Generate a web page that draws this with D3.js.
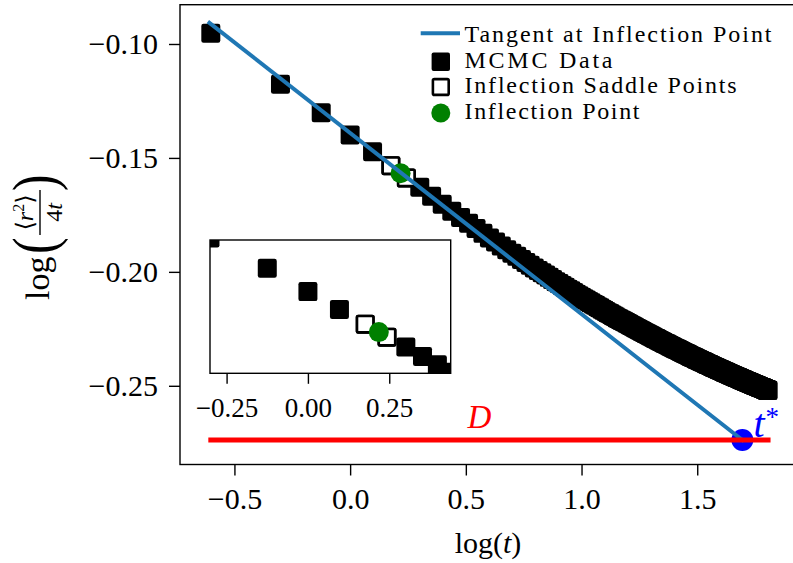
<!DOCTYPE html>
<html>
<head>
<meta charset="utf-8">
<script src="https://cdn.jsdelivr.net/npm/d3@7"></script>
<style>
  body { margin: 0; background: #fff; }
  svg { display: block; }
  text { font-family: "Liberation Serif", "DejaVu Serif", serif; fill: #000; }
</style>
</head>
<body>
<svg id="chart" width="793" height="563"></svg>
<script>
// Sampling times of the MCMC run
const times = [
  0.25,0.5,0.75,1,1.25,1.5,1.75,2,2.25,2.5,2.75,3,3.25,3.5,3.75,4,
  4.25,4.5,4.75,5,5.25,5.5,5.75,6,6.25,6.5,6.75,7,7.25,7.5,7.75,8,
  8.25,8.5,8.75,9,9.25,9.5,9.75,10,10.25,10.5,10.75,11,11.25,11.5,11.75,12,
  12.25,12.5,12.75,13,13.25,13.5,13.75,14,14.25,14.5,14.75,15,15.25,15.5,15.75,16,
  16.25,16.5,16.75,17,17.25,17.5,17.75,18,18.25,18.5,18.75,19,19.25,19.5,19.75,20,
  20.25,20.5,20.75,21,21.25,21.5,21.75,22,22.25,22.5,22.75,23,23.25,23.5,23.75,24,
  24.25,24.5,24.75,25,25.25,25.5,25.75,26,26.25,26.5,26.75,27,27.25,27.5,27.75,28,
  28.25,28.5,28.75,29,29.25,29.5,29.75,30,30.25,30.5,30.75,31,31.25,31.5,31.75,32,
  32.25,32.5,32.75,33,33.25,33.5,33.75,34,34.25,34.5,34.75,35,35.25,35.5,35.75,36,
  36.25,36.5,36.75,37,37.25,37.5,37.75,38,38.25,38.5,38.75,39,39.25,39.5,39.75,40,
  40.25,40.5,40.75,41,41.25,41.5,41.75,42,42.25,42.5,42.75,43,43.25,43.5,43.75,44,
  44.25,44.5,44.75,45,45.25,45.5,45.75,46,46.25,46.5,46.75,47,47.25,47.5,47.75,48,
  48.25,48.5,48.75,49,49.25,49.5,49.75,50,50.25,50.5,50.75,51,51.25,51.5,51.75,52,
  52.25,52.5,52.75,53,53.25,53.5,53.75,54,54.25,54.5,54.75,55,55.25,55.5,55.75,56,
  56.25,56.5,56.75,57,57.25,57.5,57.75,58,58.25,58.5,58.75,59,59.25,59.5,59.75,60,
  60.25,60.5,60.75,61,61.25,61.5,61.75,62,62.25,62.5,62.75,63,63.25,63.5,63.75,64
];

// log(<r^2> / 4t) at each sampling time
const logRatio = [
  -0.0953,-0.1177,-0.1302,-0.1399,-0.1473,-0.1534,-0.1588,-0.1629,-0.1668,-0.1703,-0.1734,-0.1761,-0.1787,-0.1810,-0.1831,-0.1851,
  -0.1869,-0.1887,-0.1903,-0.1918,-0.1932,-0.1946,-0.1959,-0.1971,-0.1983,-0.1994,-0.2004,-0.2014,-0.2024,-0.2034,-0.2043,-0.2051,
  -0.2060,-0.2068,-0.2076,-0.2083,-0.2091,-0.2098,-0.2105,-0.2111,-0.2118,-0.2124,-0.2130,-0.2136,-0.2142,-0.2147,-0.2153,-0.2158,
  -0.2164,-0.2169,-0.2174,-0.2179,-0.2183,-0.2188,-0.2193,-0.2197,-0.2202,-0.2206,-0.2210,-0.2214,-0.2218,-0.2221,-0.2225,-0.2229,
  -0.2233,-0.2236,-0.2240,-0.2244,-0.2247,-0.2251,-0.2254,-0.2257,-0.2261,-0.2264,-0.2267,-0.2270,-0.2273,-0.2276,-0.2279,-0.2282,
  -0.2285,-0.2288,-0.2291,-0.2293,-0.2296,-0.2299,-0.2301,-0.2304,-0.2307,-0.2309,-0.2312,-0.2314,-0.2316,-0.2319,-0.2321,-0.2323,
  -0.2326,-0.2328,-0.2331,-0.2333,-0.2335,-0.2337,-0.2339,-0.2341,-0.2343,-0.2345,-0.2347,-0.2350,-0.2352,-0.2354,-0.2356,-0.2357,
  -0.2359,-0.2361,-0.2363,-0.2365,-0.2367,-0.2369,-0.2371,-0.2372,-0.2374,-0.2376,-0.2377,-0.2379,-0.2381,-0.2383,-0.2384,-0.2386,
  -0.2388,-0.2389,-0.2391,-0.2392,-0.2394,-0.2395,-0.2397,-0.2398,-0.2400,-0.2402,-0.2403,-0.2405,-0.2406,-0.2407,-0.2409,-0.2410,
  -0.2412,-0.2413,-0.2414,-0.2416,-0.2417,-0.2419,-0.2420,-0.2421,-0.2423,-0.2424,-0.2425,-0.2426,-0.2428,-0.2429,-0.2430,-0.2432,
  -0.2433,-0.2434,-0.2435,-0.2436,-0.2438,-0.2439,-0.2440,-0.2441,-0.2442,-0.2444,-0.2445,-0.2446,-0.2447,-0.2448,-0.2449,-0.2450,
  -0.2451,-0.2453,-0.2454,-0.2455,-0.2456,-0.2457,-0.2458,-0.2459,-0.2460,-0.2461,-0.2462,-0.2463,-0.2464,-0.2465,-0.2466,-0.2467,
  -0.2468,-0.2469,-0.2470,-0.2471,-0.2472,-0.2473,-0.2474,-0.2475,-0.2476,-0.2477,-0.2478,-0.2479,-0.2480,-0.2481,-0.2481,-0.2482,
  -0.2483,-0.2484,-0.2485,-0.2486,-0.2487,-0.2488,-0.2489,-0.2489,-0.2490,-0.2491,-0.2492,-0.2493,-0.2494,-0.2494,-0.2495,-0.2496,
  -0.2497,-0.2498,-0.2499,-0.2499,-0.2500,-0.2501,-0.2502,-0.2503,-0.2503,-0.2504,-0.2505,-0.2506,-0.2506,-0.2507,-0.2508,-0.2509,
  -0.2509,-0.2510,-0.2511,-0.2512,-0.2512,-0.2513,-0.2514,-0.2515,-0.2515,-0.2516,-0.2517,-0.2518,-0.2518,-0.2519,-0.2520,-0.2520
];

// Saddle points bracketing the inflection
const saddleTimes = [1.5, 1.75];
const saddleValues = [-0.1534, -0.1588];

// Inflection point (log t, value)
const inflectionLogT = [0.218];
const inflectionValue = [-0.1567];

// Tangent line through the inflection point, from the first sample down to D
const tangentLogT = [-0.608, 1.695];
const tangentValue = [-0.0907, -0.2738];

// Plateau level D and its crossing t*
const diffusionLevel = [-0.2738];
const plateauLogT = [-0.602, 1.806];
const tStarLogT = [1.695];

// Axis ticks
const xTickValues = [-0.5, 0, 0.5, 1, 1.5];
const xTickLabels = ["\u22120.5", "0.0", "0.5", "1.0", "1.5"];
const yTickValues = [-0.25, -0.2, -0.15, -0.1];
const yTickLabels = ["\u22120.25", "\u22120.20", "\u22120.15", "\u22120.10"];
const insetTickValues = [-0.25, 0, 0.25];
const insetTickLabels = ["\u22120.25", "0.00", "0.25"];

const legendLabels = ["Tangent at Inflection Point", "MCMC Data", "Inflection Saddle Points", "Inflection Point"];

// ---------------------------------------------------------------------------
const svg = d3.select("#chart");
const C_TANGENT = "#1f77b4", C_IP = "#008000", C_TSTAR = "#0000ff", C_D = "#ff0000";
const SQ = 19;          // marker square side
const EDGE = 2.6;       // hollow marker edge width

const box = { left: 180, right: 796, top: 4.7, bottom: 464.5 };
const x = d3.scaleLinear().domain([-0.7352, 1.9268]).range([box.left, box.right]);
const y = d3.scaleLinear().domain([-0.28454, -0.08276]).range([box.bottom, box.top]);

const data = times.map((t, i) => ({ lx: Math.log10(t), v: logRatio[i] }));
const saddles = saddleTimes.map((t, i) => ({ lx: Math.log10(t), v: saddleValues[i] }));
const inflection = inflectionLogT.map((lx, i) => ({ lx, v: inflectionValue[i] }));

const defs = svg.append("defs");
defs.append("clipPath").attr("id", "mainClip").append("rect")
  .attr("x", box.left).attr("y", box.top)
  .attr("width", box.right - box.left).attr("height", box.bottom - box.top);

function drawSquares(g, pts, sx, sy) {
  g.selectAll(null).data(pts).join("rect")
    .attr("x", d => sx(d.lx) - SQ / 2).attr("y", d => sy(d.v) - SQ / 2)
    .attr("width", SQ).attr("height", SQ).attr("rx", 2.2)
    .attr("fill", "#000");
}
function drawHollow(g, pts, sx, sy) {
  const s = SQ - EDGE;
  g.selectAll(null).data(pts).join("rect")
    .attr("x", d => sx(d.lx) - s / 2).attr("y", d => sy(d.v) - s / 2)
    .attr("width", s).attr("height", s).attr("rx", 1.5)
    .attr("fill", "#fff").attr("stroke", "#000").attr("stroke-width", EDGE);
}
function drawDots(g, pts, sx, sy, r, color) {
  g.selectAll(null).data(pts).join("circle")
    .attr("cx", d => sx(d.lx)).attr("cy", d => sy(d.v)).attr("r", r).attr("fill", color);
}

// ---- main panel ----
const main = svg.append("g").attr("clip-path", "url(#mainClip)");
drawSquares(main.append("g"), data, x, y);
drawHollow(main.append("g"), saddles, x, y);
drawDots(main.append("g"), inflection, x, y, 10, C_IP);
drawDots(main.append("g"), tStarLogT.map(lx => ({ lx, v: diffusionLevel[0] })), x, y, 11, C_TSTAR);

const line = d3.line().x(d => x(d[0])).y(d => y(d[1]));
main.append("path")
  .attr("d", line(tangentLogT.map((lx, i) => [lx, tangentValue[i]])))
  .attr("fill", "none").attr("stroke", C_TANGENT).attr("stroke-width", 4)
  .attr("stroke-linecap", "square");
main.append("path")
  .attr("d", line(plateauLogT.map(lx => [lx, diffusionLevel[0]])))
  .attr("fill", "none").attr("stroke", C_D).attr("stroke-width", 5)
  .attr("stroke-linecap", "square");

// annotations
svg.append("text").attr("x", x(0.5075)).attr("y", 428.3)
  .attr("font-size", 33).attr("font-style", "italic").style("fill", C_D).text("D");
const ts = svg.append("text").attr("x", x(1.743)).attr("y", 436.7)
  .attr("font-size", 40).style("fill", C_TSTAR);
ts.append("tspan").attr("font-style", "italic").text("t");
ts.append("tspan").attr("font-size", 27).attr("dx", 1).attr("dy", -11).text("*");

// frame
svg.append("rect").attr("x", box.left).attr("y", box.top)
  .attr("width", box.right - box.left).attr("height", box.bottom - box.top)
  .attr("fill", "none").attr("stroke", "#000").attr("stroke-width", 1.4);

// axes
const xAxis = svg.append("g").attr("transform", `translate(0,${box.bottom})`)
  .call(d3.axisBottom(x).tickValues(xTickValues).tickFormat((d, i) => xTickLabels[i])
    .tickSize(11).tickSizeOuter(0));
xAxis.select(".domain").remove();
xAxis.attr("font-family", null).attr("font-size", null);
xAxis.selectAll("line").attr("stroke", "#000").attr("stroke-width", 1.4);
xAxis.selectAll("text").attr("y", 44).attr("dy", null)
  .attr("font-size", 30).style("fill", "#000");

const yAxis = svg.append("g").attr("transform", `translate(${box.left},0)`)
  .call(d3.axisLeft(y).tickValues(yTickValues).tickFormat((d, i) => yTickLabels[i])
    .tickSize(11).tickSizeOuter(0));
yAxis.select(".domain").remove();
yAxis.attr("font-family", null).attr("font-size", null);
yAxis.selectAll("line").attr("stroke", "#000").attr("stroke-width", 1.4);
yAxis.selectAll("text").attr("x", -22).attr("dy", null).attr("y", 10)
  .attr("font-size", 30).style("fill", "#000");

// x label: log(t)
const xl = svg.append("text").attr("x", (box.left + box.right) / 2).attr("y", 553)
  .attr("text-anchor", "middle").attr("font-size", 30);
xl.append("tspan").text("log(");
xl.append("tspan").attr("font-style", "italic").text("t");
xl.append("tspan").text(")");

// y label: log( <r^2> / 4t ), rotated
const yl = svg.append("g").attr("transform", "translate(40,300) rotate(-90)");
yl.append("text").attr("x", 0).attr("y", 9).attr("font-size", 34).text("log");
yl.append("text").attr("x", 46).attr("y", 15).attr("font-size", 62)
  .attr("transform", "translate(46,0) scale(0.8,1) translate(-46,0)").text("(");
yl.append("text").attr("x", 109).attr("y", 15).attr("font-size", 62)
  .attr("transform", "translate(109,0) scale(0.8,1) translate(-109,0)").text(")");
yl.append("line").attr("x1", 65).attr("x2", 110).attr("y1", 0).attr("y2", 0)
  .attr("stroke", "#000").attr("stroke-width", 1.4);
const num = yl.append("text").attr("x", 87.5).attr("y", -7).attr("text-anchor", "middle").attr("font-size", 24);
num.append("tspan").text("\u27E8");
num.append("tspan").attr("font-style", "italic").text("r");
num.append("tspan").attr("font-size", 16).attr("dy", -9).text("2");
num.append("tspan").attr("dy", 9).text("\u27E9");
const den = yl.append("text").attr("x", 87.5).attr("y", 22).attr("text-anchor", "middle").attr("font-size", 24);
den.append("tspan").text("4");
den.append("tspan").attr("font-style", "italic").text("t");

// ---- legend ----
const lg = svg.append("g");
const rows = [33.3, 61.7, 87, 113];
const baselines = [41.7, 67.5, 93.2, 118.5];
const textWidths = [307, 148, 272, 175];
lg.append("line").attr("x1", 420.7).attr("x2", 460).attr("y1", rows[0]).attr("y2", rows[0])
  .attr("stroke", C_TANGENT).attr("stroke-width", 4);
lg.append("rect").attr("x", 440.8 - 9.2).attr("y", rows[1] - 9.2).attr("width", 18.4).attr("height", 18.4)
  .attr("rx", 2).attr("fill", "#000");
lg.append("rect").attr("x", 440.8 - 7.9).attr("y", rows[2] - 7.9).attr("width", 15.8).attr("height", 15.8)
  .attr("rx", 1.5).attr("fill", "#fff").attr("stroke", "#000").attr("stroke-width", EDGE);
lg.append("circle").attr("cx", 440.8).attr("cy", rows[3]).attr("r", 9.5).attr("fill", C_IP);
legendLabels.forEach((label, i) => {
  lg.append("text").attr("x", 464.5).attr("y", baselines[i]).attr("font-size", 24)
    .attr("textLength", textWidths[i]).attr("lengthAdjust", "spacing").text(label);
});

// ---- inset: zoom on the inflection region ----
const ib = { left: 210, right: 450.7, top: 240, bottom: 373.3 };
const xi = d3.scaleLinear().domain([-0.301, 0.4389]).range([ib.left, ib.right]);
const yi = d3.scaleLinear().domain([-0.1738, -0.1185]).range([ib.bottom, ib.top]);
defs.append("clipPath").attr("id", "insetClip").append("rect")
  .attr("x", ib.left).attr("y", ib.top).attr("width", ib.right - ib.left).attr("height", ib.bottom - ib.top);
const inset = svg.append("g");
inset.append("rect").attr("x", ib.left).attr("y", ib.top)
  .attr("width", ib.right - ib.left).attr("height", ib.bottom - ib.top).attr("fill", "#fff");
const ic = inset.append("g").attr("clip-path", "url(#insetClip)");
drawSquares(ic.append("g"), data, xi, yi);
drawHollow(ic.append("g"), saddles, xi, yi);
drawDots(ic.append("g"), inflection, xi, yi, 10, C_IP);
inset.append("rect").attr("x", ib.left).attr("y", ib.top)
  .attr("width", ib.right - ib.left).attr("height", ib.bottom - ib.top)
  .attr("fill", "none").attr("stroke", "#000").attr("stroke-width", 1.4);
const iAxis = inset.append("g").attr("transform", `translate(0,${ib.bottom})`)
  .call(d3.axisBottom(xi).tickValues(insetTickValues).tickFormat((d, i) => insetTickLabels[i])
    .tickSize(10.5).tickSizeOuter(0));
iAxis.select(".domain").remove();
iAxis.attr("font-family", null).attr("font-size", null);
iAxis.selectAll("line").attr("stroke", "#000").attr("stroke-width", 1.4);
iAxis.selectAll("text").attr("y", 43.4).attr("dy", null).attr("font-size", 27).style("fill", "#000");
</script>
</body>
</html>
